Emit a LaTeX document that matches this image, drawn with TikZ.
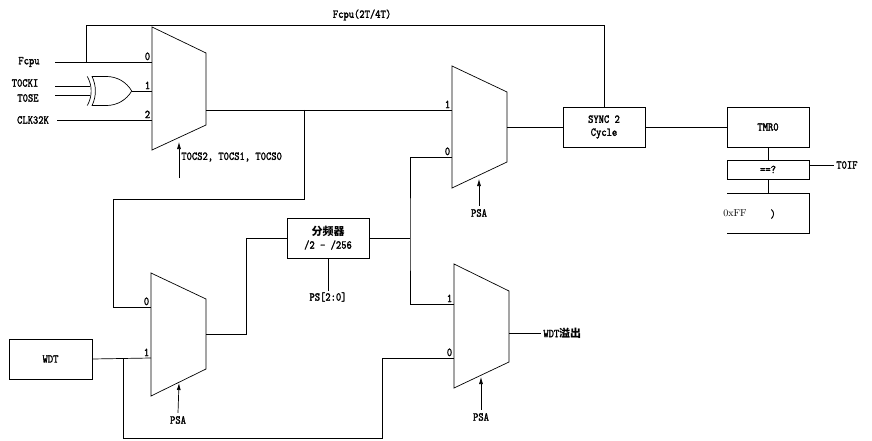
\documentclass[tikz,border=0pt]{standalone}
\usepackage{fontspec}
\newfontfamily\cjk{Noto Sans CJK SC}
\newfontfamily\lblfont{lmmono10-regular.otf}[FakeBold=1.6, FakeStretch=0.84]
\usetikzlibrary{positioning, arrows.meta, shapes.gates.logic.US}

\begin{document}
\begin{tikzpicture}[
    x=1pt, y=-1pt,
    line width=0.7pt,
    lbl/.style={font=\lblfont\fontsize{12}{13}\selectfont, inner sep=1pt},
    pinlbl/.style={lbl, above left, inner sep=1.5pt},
    psalbl/.style={lbl, inner sep=3pt},
    blk/.style={draw, lbl, minimum width=82pt, minimum height=40pt, align=center},
    sel/.style={-{Latex[length=7pt,width=4pt]}}
]
\useasboundingbox (0,0) rectangle (872,441);

% =============================
% inputs and xor
% =============================
\node[lbl] (fcpu) at (29,62) {Fcpu};
\node[lbl] (tcki) at (25,83) {T0CKI};
\node[lbl] (tse) at (28,98) {T0SE};
\node[lbl] (clk) at (33,120) {CLK32K};

\node[xor gate US, draw, logic gate inputs=nn, minimum width=38pt,
      minimum height=29pt, inner sep=0pt] (xor) at (109,91) {};

\coordinate (fcpuL) at (55,62);
\coordinate (clkL) at (57,120);
\coordinate (tckiL) at (xor.input 1 -| fcpuL);
\coordinate (tseL) at (xor.input 2 -| fcpuL);

% =============================
% mux 1 (clock source)
% =============================
\draw (152,27) -- (206,53) -- (206,125) -- (152,150) -- cycle;
\coordinate (m1in0) at (152,62);
\coordinate (m1in1) at (152,91);
\coordinate (m1in2) at (152,120);
\coordinate (m1out) at (206,110);
\coordinate (m1s) at (179,142);
\coordinate (m1sL) at (179,178);
\node[pinlbl] (m1l0) at (m1in0) {0};
\node[pinlbl] (m1l1) at (m1in1) {1};
\node[pinlbl] (m1l2) at (m1in2) {2};
\node[lbl, anchor=west] (tcs) at (180,157) {T0CS2, T0CS1, T0CS0};

\draw (fcpuL) -- (m1in0);
\draw (tckiL) -- (xor.input 1);
\draw (tseL) -- (xor.input 2);
\draw (xor.output) -- (m1in1);
\draw (clkL) -- (m1in2);
\draw[sel] (m1sL) -- (m1s);

% =============================
% mux 2 (prescaler to timer)
% =============================
\draw (452,66) -- (507,92) -- (507,162) -- (452,188) -- cycle;
\coordinate (m2in1) at (452,110);
\coordinate (m2in0) at (452,157);
\coordinate (m2out) at (507,127);
\coordinate (m2s) at (479,179);
\node[pinlbl] (m2l1) at (m2in1) {1};
\node[pinlbl] (m2l0) at (m2in0) {0};
\node[psalbl] (psa2) at (479,213) {PSA};
\draw[sel] (psa2.north) -- (m2s);

% =============================
% mux 3 (prescaler input)
% =============================
\draw (151,273) -- (206,299) -- (206,369) -- (151,396) -- cycle;
\coordinate (m3in0) at (151,307);
\coordinate (m3in1) at (151,358);
\coordinate (m3out) at (206,334);
\coordinate (m3s) at (179,383);
\node[pinlbl] (m3l0) at (m3in0) {0};
\node[pinlbl] (m3l1) at (m3in1) {1};
\node[psalbl] (psa3) at (178,420) {PSA};
\draw[sel] (psa3.north) -- (m3s);

% =============================
% mux 4 (wdt)
% =============================
\draw (454,264) -- (509,291) -- (509,362) -- (454,388) -- cycle;
\coordinate (m4in1) at (454,304);
\coordinate (m4in0) at (454,358);
\coordinate (m4out) at (509,333);
\coordinate (m4s) at (481,377);
\node[pinlbl] (m4l1) at (m4in1) {1};
\node[pinlbl] (m4l0) at (m4in0) {0};
\node[psalbl] (psa4) at (481,417) {PSA};
\draw[sel] (psa4.north) -- (m4s);
\node[lbl, anchor=west, inner sep=2pt] (wdtov) at (541,333) {WDT{\cjk\bfseries\fontsize{11}{13}\selectfont 溢出}};
\draw (m4out) -- (wdtov.west);

% =============================
% blocks
% =============================
\node[blk] (sync) at (604,127) {SYNC 2\\Cycle};
\node[blk] (tmr) at (768,127) {TMR0};
\node[blk, minimum height=19pt] (eq) at (768,169.5) {==?};
\node[blk] (div) at (328,238) {{\cjk\bfseries\fontsize{11}{13}\selectfont 分频器}\\/2 - /256};
\node[blk, minimum width=83pt] (wdt) at (50.5,359) {WDT};

\node[lbl] (ps) at (328,297) {PS[2:0]};
\node[lbl, anchor=west, inner sep=2pt] (toif) at (834,165) {T0IF};
\coordinate (eqOut) at (809,165);

% compare value, box open on the left
\coordinate (ffTop) at (768,193);
\draw (727,193) -- (809,193) -- (809,233) -- (727,233);
\node[font=\fontsize{10}{12}\selectfont, inner sep=0pt] (ffv) at (735,213) {0xFF};
\node[lbl, inner sep=0pt] (ffp) at (773,214) {)};

\node[lbl] (fcpu2) at (362,15) {Fcpu(2T/4T)};

% =============================
% wiring
% =============================
\coordinate (fj) at (86,62);
\coordinate (ftop) at (604,25);
\draw (fj) |- (ftop) -- (sync.north);

\coordinate (j1) at (304,110);
\coordinate (c0) at (113,199);
\draw (m1out) -- (m2in1);
\draw (j1) |- (c0) |- (m3in0);

\coordinate (c1) at (246,334);
\draw (m3out) -- (c1) |- (div.west);
\draw (div.south) -- (ps.north);

\coordinate (j2) at (410,238);
\draw (div.east) -- (j2);
\draw (m2in0) -| (j2) |- (m4in1);

\coordinate (j3) at (123,358);
\coordinate (c2) at (382,438);
\draw (wdt.east) -- (m3in1);
\draw (j3) |- (c2) |- (m4in0);

\draw (m2out) -- (sync.west);
\draw (sync.east) -- (tmr.west);
\draw (tmr.south) -- (eq.north);
\draw (eqOut) -- (toif.west);
\draw (eq.south) -- (ffTop);
\end{tikzpicture}
\end{document}
